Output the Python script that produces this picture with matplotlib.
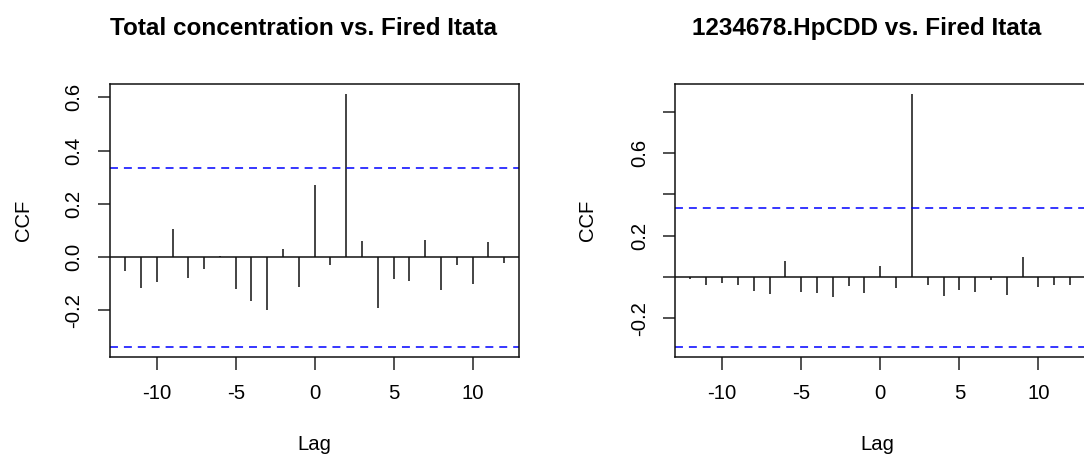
import numpy as np
import matplotlib
matplotlib.use("Agg")
import matplotlib.pyplot as plt

plt.rcParams['font.family'] = ['Liberation Sans', 'DejaVu Sans']

# lags -12..12
lags = np.arange(-12, 13)

# CCF values
ccf_total = [-0.051, -0.115, -0.095, 0.104, -0.078, -0.044, 0.004, -0.118, -0.163,
             -0.198, 0.030, -0.113, 0.271, -0.030, 0.611, 0.061, -0.191, -0.082,
             -0.089, 0.063, -0.125, -0.031, -0.102, 0.056, -0.023]
ccf_hpcdd = [-0.008, -0.036, -0.029, -0.040, -0.065, -0.082, 0.078, -0.073, -0.079,
             -0.097, -0.042, -0.076, 0.053, -0.052, 0.883, -0.036, -0.091, -0.061,
             -0.071, -0.013, -0.086, 0.099, -0.049, -0.039, -0.039]
n_obs = 34
clim = 1.96 / np.sqrt(n_obs)

titles = ["Total concentration vs. Fired Itata", "1234678.HpCDD vs. Fired Itata"]
yticks = [[-0.2, 0.0, 0.2, 0.4, 0.6], [-0.2, 0.0, 0.2, 0.4, 0.6, 0.8]]
ylabels = [["-0.2", "0.0", "0.2", "0.4", "0.6"], ["-0.2", "", "0.2", "", "0.6", ""]]
xticks = [-10, -5, 0, 5, 10]

W, H = 1084, 455
fig = plt.figure(figsize=(W / 100, H / 100), dpi=100)

boxes = [(110, 84.3, 409.3, 272.4), (675.3, 84.3, 409.9, 272.4)]
title_x = [304, 866.7]
ylab_x = [24, 588]
lag_x = [314.5, 877]

for k, (vals, title) in enumerate(zip([ccf_total, ccf_hpcdd], titles)):
    x0, y0, w, h = boxes[k]
    ax = fig.add_axes([x0 / W, 1 - (y0 + h) / H, w / W, h / H])
    ax.vlines(lags, 0, vals, color='#111111', lw=1.1)
    ax.axhline(0, color='#111111', lw=1.1)
    for c in (clim, -clim):
        ax.axhline(c, color='blue', lw=1.1, dashes=(5.2, 3.9))
    lo = min(min(vals), -clim)
    hi = max(max(vals), clim)
    pad = 0.04 * (hi - lo)
    ax.set_ylim(lo - pad, hi + pad)
    ax.set_xlim(-12 - 0.96, 12 + 0.96)
    ax.set_xticks(xticks)
    ax.set_xticklabels([str(t) for t in xticks])
    ax.set_yticks(yticks[k])
    ax.set_yticklabels(ylabels[k], rotation=90, va='center')
    ax.tick_params(direction='out', length=9, width=1.1, color='#222222',
                   labelsize=14.6, pad=11)
    ax.tick_params(axis='y', pad=10)
    for s in ax.spines.values():
        s.set_linewidth(1.1)
        s.set_color('#111111')
    fig.text(title_x[k] / W, 1 - 35 / H, title, ha='center', va='baseline',
             fontsize=17.5, fontweight='bold')
    fig.text(ylab_x[k] / W, 1 - (y0 + h / 2) / H, "CCF", rotation=90,
             ha='center', va='center', fontsize=14.6)
    fig.text(lag_x[k] / W, 1 - 444 / H, "Lag", ha='center', va='center', fontsize=14.6)

fig.savefig("out.png", dpi=100)
